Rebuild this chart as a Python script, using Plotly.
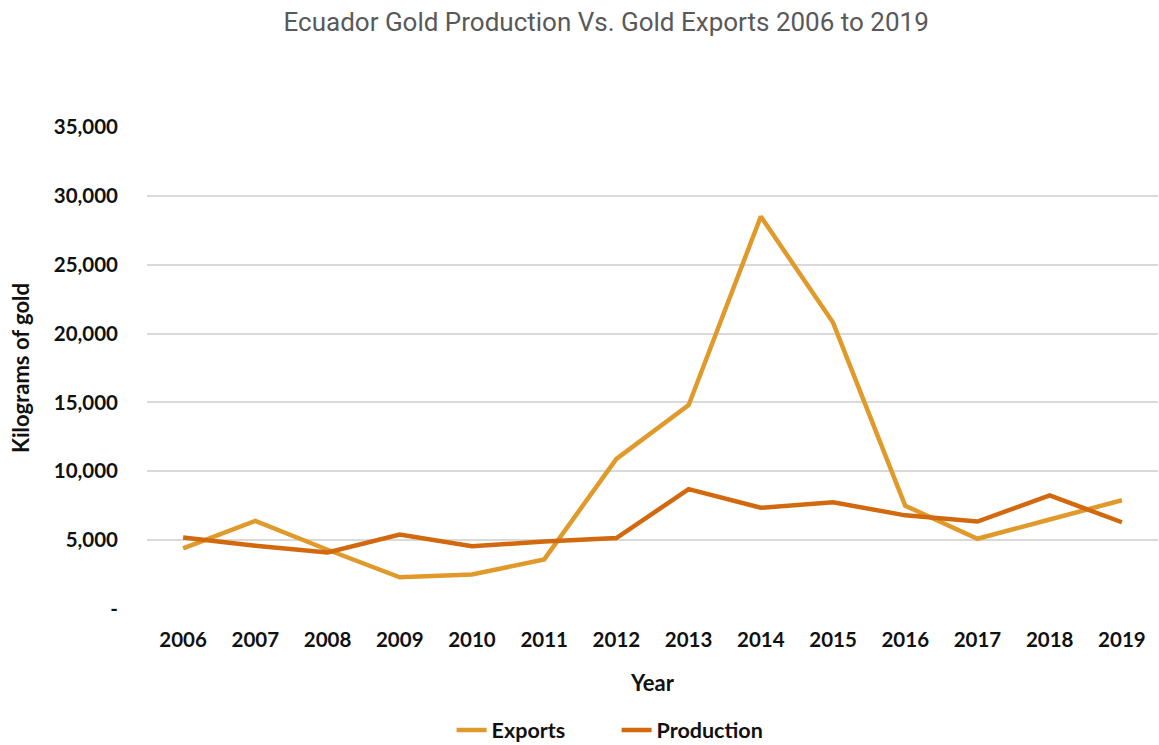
import plotly.graph_objects as go

# Annual figures, kilograms of gold
years = ["2006", "2007", "2008", "2009", "2010", "2011", "2012",
         "2013", "2014", "2015", "2016", "2017", "2018", "2019"]
exports = [4400, 6400, 4300, 2300, 2500, 3600, 10900,
           14800, 28500, 20800, 7500, 5100, 6500, 7900]
production = [5200, 4600, 4100, 5400, 4550, 4900, 5150,
              8700, 7350, 7750, 6800, 6350, 8250, 6300]

y_ticks = [0, 5000, 10000, 15000, 20000, 25000, 30000, 35000]
y_tick_text = ["-", "5,000", "10,000", "15,000", "20,000", "25,000", "30,000", "35,000"]

EXPORT_COLOR = "#E09A2B"
PRODUCTION_COLOR = "#D2690F"
FONT = "Lato, Open Sans, sans-serif"
tick_font = dict(family=FONT, size=20.5, color="#111111")
title_font = dict(family=FONT, size=22, color="#111111")

fig = go.Figure()
fig.add_trace(go.Scatter(x=years, y=exports, name="Exports", mode="lines",
                         line=dict(color=EXPORT_COLOR, width=4.5)))
fig.add_trace(go.Scatter(x=years, y=production, name="Production", mode="lines",
                         line=dict(color=PRODUCTION_COLOR, width=4.5)))

fig.update_layout(
    width=1159, height=745,
    paper_bgcolor="white", plot_bgcolor="white",
    margin=dict(l=147, r=1, t=127, b=136),
    title=dict(text="Ecuador Gold Production Vs. Gold Exports 2006 to 2019",
               x=0.523, xref="container", xanchor="center",
               y=0.97, yref="container", yanchor="middle",
               font=dict(family="Roboto, sans-serif", size=26, color="#595959")),
    legend=dict(orientation="h", x=0.532, xref="container", xanchor="center",
                y=0.02, yref="container", yanchor="middle",
                entrywidth=120, entrywidthmode="pixels",
                font=dict(family=FONT, size=21.5, color="#111111", weight="bold")),
    showlegend=True,
)

fig.update_xaxes(type="category", range=[-0.5, 13.5], showgrid=False, showline=False,
                 ticks="", tickfont=tick_font, ticklabelstandoff=16,
                 tickvals=years, ticktext=[f"<b>{y}</b>" for y in years],
                 title=dict(text="<b>Year</b>", font=title_font, standoff=26))
fig.update_yaxes(range=[0, 35000], tickvals=y_ticks,
                 ticktext=[f"<b>{t}</b>" for t in y_tick_text],
                 showgrid=True, gridcolor="#D9D9D9", gridwidth=1.5, zeroline=False,
                 showline=False, ticks="", tickfont=tick_font, ticklabelstandoff=28,
                 title=dict(text="<b>Kilograms of gold</b>", font=title_font, standoff=18))

fig.write_html("out.html")
